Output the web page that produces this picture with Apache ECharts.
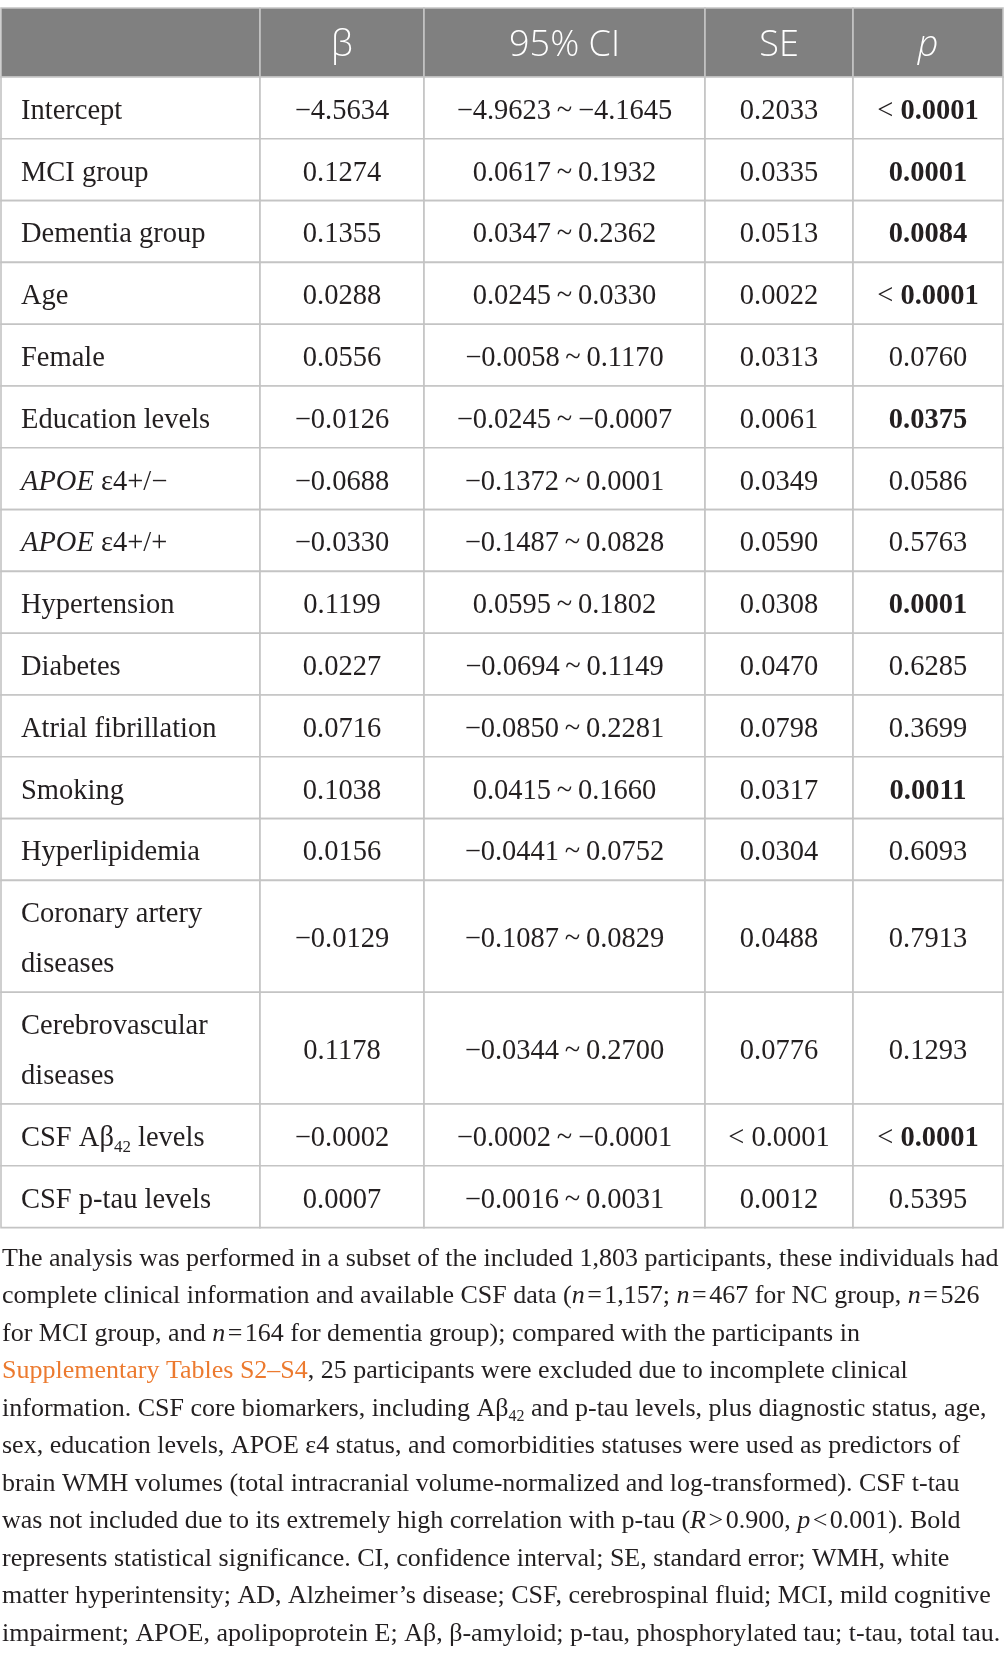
<!DOCTYPE html>
<html><head><meta charset="utf-8">
<script src="https://cdn.jsdelivr.net/npm/echarts@6/dist/echarts.min.js"></script>
<style>html,body{margin:0;padding:0;background:#fff}#c{width:1005px;height:1661px}</style>
</head><body><div id="c"></div>
<script>
// ---- data ----
const headers = ['', 'β', '95% CI', 'SE', '{i|p}'];
const variables = ['Intercept','MCI group','Dementia group','Age','Female','Education levels',
  '{i|APOE} ε4+/−','{i|APOE} ε4+/+','Hypertension','Diabetes','Atrial fibrillation','Smoking',
  'Hyperlipidemia','Coronary artery\ndiseases','Cerebrovascular\ndiseases','CSF Aβ{sub|42} levels','CSF p-tau levels'];
const beta = [-4.5634,0.1274,0.1355,0.0288,0.0556,-0.0126,-0.0688,-0.0330,0.1199,0.0227,0.0716,0.1038,0.0156,-0.0129,0.1178,-0.0002,0.0007];
const ciLower = [-4.9623,0.0617,0.0347,0.0245,-0.0058,-0.0245,-0.1372,-0.1487,0.0595,-0.0694,-0.0850,0.0415,-0.0441,-0.1087,-0.0344,-0.0002,-0.0016];
const ciUpper = [-4.1645,0.1932,0.2362,0.0330,0.1170,-0.0007,0.0001,0.0828,0.1802,0.1149,0.2281,0.1660,0.0752,0.0829,0.2700,-0.0001,0.0031];
const se = ['0.2033','0.0335','0.0513','0.0022','0.0313','0.0061','0.0349','0.0590','0.0308','0.0470','0.0798','0.0317','0.0304','0.0488','0.0776','< 0.0001','0.0012'];
const pValue = ['< 0.0001','0.0001','0.0084','< 0.0001','0.0760','0.0375','0.0586','0.5763','0.0001','0.6285','0.3699','0.0011','0.6093','0.7913','0.1293','< 0.0001','0.5395'];
const significant = [true,true,true,true,false,true,false,false,true,false,false,true,false,false,false,true,false];
const footnoteLines = [
  'The analysis was performed in a subset of the included 1,803 participants, these individuals had',
  'complete clinical information and available CSF data ({i|n}{op|=}1,157; {i|n}{op|=}467 for NC group, {i|n}{op|=}526',
  'for MCI group, and {i|n}{op|=}164 for dementia group); compared with the participants in',
  '{link|Supplementary Tables S2\u2013S4}, 25 participants were excluded due to incomplete clinical',
  'information. CSF core biomarkers, including Aβ{sub|42} and p-tau levels, plus diagnostic status, age,',
  'sex, education levels, APOE ε4 status, and comorbidities statuses were used as predictors of',
  'brain WMH volumes (total intracranial volume-normalized and log-transformed). CSF t-tau',
  'was not included due to its extremely high correlation with p-tau ({i|R}{op|>}0.900, {i|p}{op|<}0.001). Bold',
  'represents statistical significance. CI, confidence interval; SE, standard error; WMH, white',
  'matter hyperintensity; AD, Alzheimer\u2019s disease; CSF, cerebrospinal fluid; MCI, mild cognitive',
  'impairment; APOE, apolipoprotein E; Aβ, β-amyloid; p-tau, phosphorylated tau; t-tau, total tau.'
];

// ---- layout ----
const colWidths = [259, 164, 281, 148, 150];
const headerH = 69, rowPad = 11.8, lineH = 50;
const colEdges = [0];
colWidths.forEach(w => colEdges.push(colEdges[colEdges.length - 1] + w));
const rowEdges = [0, headerH];
variables.forEach(v => {
  const lines = v.split('\n').length;
  rowEdges.push(rowEdges[rowEdges.length - 1] + rowPad + lines * lineH);
});
const tableW = colEdges[colEdges.length - 1];
const tableH = rowEdges[rowEdges.length - 1];

const fmt = v => (v < 0 ? '\u2212' : '') + Math.abs(v).toFixed(4);
const TXT = '#231f20';
const SERIF = 'Liberation Serif';
const cellFont = 28.5;
const headFont = 36;
const noteFont = 26;

function cellText(c, r) {
  if (r === 0) return headers[c];
  const i = r - 1;
  if (c === 0) return variables[i];
  if (c === 1) return fmt(beta[i]);
  if (c === 2) return fmt(ciLower[i]) + '\u2009~\u2009' + fmt(ciUpper[i]);
  if (c === 3) return se[i];
  const s = pValue[i];
  if (!significant[i]) return s;
  return s.startsWith('<') ? '< {b|' + s.slice(2) + '}' : '{b|' + s + '}';
}

const cells = [];
for (let r = 0; r < rowEdges.length - 1; r++)
  for (let c = 0; c < colWidths.length; c++) cells.push([c, r]);

const chart = echarts.init(document.getElementById('c'), null, {renderer: 'canvas'});
chart.setOption({
  animation: false,
  grid: {left: 1, top: 8, width: tableW, height: tableH},
  xAxis: {type: 'value', min: 0, max: tableW, show: false},
  yAxis: {type: 'value', min: 0, max: tableH, inverse: true, show: false},
  series: [{
    type: 'custom',
    clip: false,
    data: cells,
    renderItem(params, api) {
      const c = api.value(0), r = api.value(1);
      const p0 = api.coord([colEdges[c], rowEdges[r]]);
      const p1 = api.coord([colEdges[c + 1], rowEdges[r + 1]]);
      const isHead = r === 0;
      const x = c === 0 && !isHead ? p0[0] + 20 : (p0[0] + p1[0]) / 2;
      const yMid = (p0[1] + p1[1]) / 2;
      const fs = isHead ? headFont : cellFont;
      const family = isHead ? 'Open Sans' : SERIF;
      const weight = isHead ? 300 : 'normal';
      const fill = isHead ? '#ffffff' : TXT;
      return {
        type: 'group',
        children: [{
          type: 'rect',
          shape: {x: p0[0], y: p0[1], width: p1[0] - p0[0], height: p1[1] - p0[1]},
          style: {fill: isHead ? '#808080' : '#ffffff', stroke: '#c4c4c4', lineWidth: 1.6}
        }, {
          type: 'text',
          z2: 10,
          style: {
            text: cellText(c, r),
            x: x, y: yMid + (isHead ? 3.5 : 3.5),
            align: c === 0 && !isHead ? 'left' : 'center',
            verticalAlign: 'middle',
            fontFamily: family, fontSize: fs, fontWeight: weight, fill: fill, lineHeight: lineH,
            rich: {
              i: {fontStyle: 'italic', fontFamily: family, fontSize: fs, fontWeight: weight, fill: fill, lineHeight: lineH},
              b: {fontWeight: 'bold', fontFamily: family, fontSize: fs, fill: fill, lineHeight: lineH},
              sub: {fontFamily: family, fontSize: 17, fill: fill, verticalAlign: 'bottom', padding: [0, 0, 7, 0]}
            }
          }
        }]
      };
    }
  }],
  graphic: [{
    type: 'text',
    left: 2,
    top: 1240,
    style: {
      text: footnoteLines.join('\n'),
      fontFamily: SERIF, fontSize: noteFont, fill: TXT, lineHeight: 37.5,
      rich: {
        i: {fontStyle: 'italic', fontFamily: SERIF, fontSize: noteFont, fill: TXT, lineHeight: 37.5},
        op: {fontFamily: SERIF, fontSize: noteFont, fill: TXT, lineHeight: 37.5, padding: [0, 2.5, 0, 2.5]},
        link: {fontFamily: SERIF, fontSize: noteFont, fill: '#ec7a2f', lineHeight: 37.5},
        sub: {fontFamily: SERIF, fontSize: 16, fill: TXT, verticalAlign: 'bottom', padding: [0, 0, 3, 0]}
      }
    }
  }]
});
</script></body></html>
